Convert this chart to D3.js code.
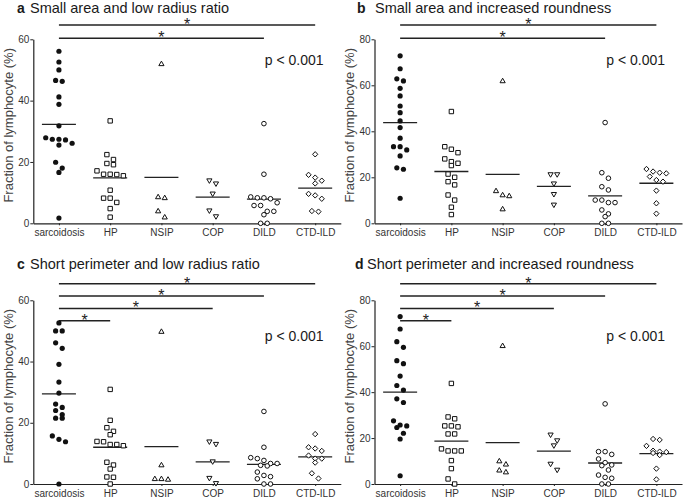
<!DOCTYPE html>
<html><head><meta charset="utf-8">
<script src="https://cdn.jsdelivr.net/npm/d3@7"></script>
<style>body{margin:0;background:#fff}svg{display:block}</style>
</head><body>
<script>
// ---------------- data ----------------
const categories = ["sarcoidosis", "HP", "NSIP", "COP", "DILD", "CTD-ILD"];
const panelLetters = ["a", "b", "c", "d"];
const panelTitles = [
  "Small area and low radius ratio",
  "Small area and increased roundness",
  "Short perimeter and low radius ratio",
  "Short perimeter and increased roundness"
];
const yTicks60 = [0, 20, 40, 60];
const yTicks80 = [0, 20, 40, 60, 80];
const yLabelText = "Fraction of lymphocyte (%)";
const pValueText = "p < 0.001";
const sigA = ["DILD", "CTD-ILD"];
const sigB = ["DILD", "CTD-ILD"];
const sigC = ["HP", "COP", "DILD", "CTD-ILD"];
const sigD = ["HP", "COP", "DILD", "CTD-ILD"];

const valuesA = [
  [56.1, 52.6, 50.0, 46.3, 46.6, 41.2, 38.8, 31.8, 27.9, 27.4, 26.1, 25.5, 27.2, 27.4, 19.9, 18.0, 16.6, 1.7],
  [33.4, 22.4, 19.5, 19.1, 20.8, 17.1, 16.0, 15.5, 15.9, 16.0, 10.8, 8.2, 8.2, 6.8, 4.8, 2.0],
  [52.0, 8.6, 8.3, 4.0, 2.0],
  [12.9, 13.9, 9.6, 4.1, 2.2],
  [32.5, 16.0, 8.6, 8.3, 8.3, 8.0, 6.7, 5.8, 5.8, 3.9, 3.9, 2.8, 0, 0],
  [22.5, 14.9, 15.8, 13.9, 13.0, 9.1, 8.0, 9.6, 3.8, 4.0]
];
const valuesB = [
  [72.8, 67.2, 62.8, 61.9, 58.7, 55.4, 51.0, 48.1, 44.5, 41.6, 37.0, 33.3, 31.9, 33.3, 29.3, 24.1, 23.5, 10.9],
  [48.6, 33.3, 32.2, 30.7, 28.0, 26.1, 25.1, 26.8, 20.0, 21.4, 18.1, 16.7, 12.3, 10.1, 7.0, 3.8],
  [61.9, 12.3, 11.9, 14.1, 6.2],
  [21.2, 21.2, 17.2, 12.6, 8.0],
  [43.8, 22.0, 19.6, 15.9, 14.5, 10.1, 9.0, 9.0, 10.1, 5.8, 2.9, 4.1, 0, 0],
  [22.5, 21.7, 22.0, 23.6, 20.3, 18.8, 18.1, 14.2, 8.7, 4.2]
];
const valuesC = [
  [52.6, 50.0, 50.0, 46.1, 44.3, 39.1, 33.3, 29.7, 26.1, 25.0, 24.0, 22.7, 21.5, 21.5, 15.7, 14.6, 13.8, 0],
  [30.9, 20.8, 18.4, 17.2, 16.1, 13.9, 12.9, 12.5, 12.9, 13.8, 7.1, 6.2, 4.9, 2.3, 2.2, 0],
  [49.8, 6.2, 1.7, 1.5, 1.7],
  [13.0, 13.8, 7.3, 1.9, 0.2],
  [23.7, 12.0, 8.6, 8.3, 7.7, 6.7, 5.9, 6.1, 6.7, 3.9, 2.8, 1.7, 2.4, 0, 0],
  [16.3, 12.0, 10.8, 11.6, 9.3, 8.3, 7.0, 8.3, 3.5, 1.8]
];
const valuesD = [
  [72.9, 67.5, 62.0, 59.5, 52.4, 53.7, 47.0, 40.9, 42.9, 37.1, 35.5, 25.7, 24.6, 25.3, 27.5, 22.1, 19.6, 3.6],
  [43.8, 28.4, 29.2, 24.9, 25.3, 25.3, 21.8, 21.8, 15.3, 14.4, 14.4, 14.4, 10.2, 6.7, 2.2, 0],
  [60.2, 10.0, 8.6, 6.0, 5.2],
  [21.4, 18.9, 16.7, 8.7, 6.1],
  [34.9, 14.1, 12.9, 14.1, 10.9, 9.3, 8.0, 8.3, 6.1, 2.5, 3.9, 2.9, 0, 0],
  [19.2, 19.6, 16.6, 14.5, 13.9, 12.6, 13.5, 14.1, 6.7, 2.0]
];

// ---------------- layout ----------------
const W = 685, H = 501;
const panels = [
  {values: valuesA, ticks: yTicks60, max: 60, sig: sigA, axisX: 33.3, top: 39.3, bottom: 223.3,
   letterX: 17, titleX: 30, titleY: 12.7, pX: 323.5, pY: 65, sigBase: -1, sigStep: 13.3},
  {values: valuesB, ticks: yTicks80, max: 80, sig: sigB, axisX: 374.5, top: 39.3, bottom: 223.3,
   letterX: 357, titleX: 375, titleY: 12.7, pX: 665, pY: 65, sigBase: -1, sigStep: 13.3},
  {values: valuesC, ticks: yTicks60, max: 60, sig: sigC, axisX: 33.3, top: 300.3, bottom: 484,
   letterX: 17, titleX: 30, titleY: 269, pX: 323.5, pY: 341, sigBase: 20.4, sigStep: 12.3},
  {values: valuesD, ticks: yTicks80, max: 80, sig: sigD, axisX: 374.5, top: 300.3, bottom: 484,
   letterX: 355, titleX: 367, titleY: 269, pX: 665, pY: 341, sigBase: 20.4, sigStep: 12.3}
];
const plotW = 307.5;
const FONT = "'Liberation Sans', Arial, Helvetica, sans-serif";
const INK = "#1a1a1a";

// marker shapes per category (open markers)
const markerPath = [
  null,
  "M-2.2,-2.2H2.2V2.2H-2.2Z",
  "M0,-2.7L2.6,1.8L-2.6,1.8Z",
  "M0,2.7L2.6,-1.8L-2.6,-1.8Z",
  null,
  "M0,-2.7L2.6,0L0,2.7L-2.6,0Z"
];

function swarm(vals, y, cx, gap, thr) {
  const pts = vals.map((v, i) => ({v, i, py: y(v)})).sort((a, b) => a.py - b.py);
  const groups = [];
  let g = null;
  for (const p of pts) {
    if (!g || p.py - g[0].py >= thr) { g = [p]; groups.push(g); }
    else g.push(p);
  }
  groups.forEach(gr => gr.forEach((p, k) => { p.px = cx + (k - (gr.length - 1) / 2) * gap; }));
  return pts;
}

const svg = d3.select("body").append("svg")
  .attr("width", W).attr("height", H)
  .attr("font-family", FONT);

panels.forEach((P, pi) => {
  const g = svg.append("g");
  const x = d3.scalePoint().domain(categories).range([P.axisX, P.axisX + plotW]).padding(0.5);
  const y = d3.scaleLinear().domain([0, P.max]).range([P.bottom, P.top]);

  // title
  g.append("text").attr("x", P.letterX).attr("y", P.titleY).attr("font-size", 14)
    .attr("font-weight", "bold").attr("fill", INK).text(panelLetters[pi]);
  g.append("text").attr("x", P.titleX).attr("y", P.titleY).attr("font-size", 14.5)
    .attr("fill", INK).text(panelTitles[pi]);

  // axes
  const ya = g.append("g").attr("transform", `translate(${P.axisX},0)`)
    .call(d3.axisLeft(y).tickValues(P.ticks).tickSize(3).tickPadding(1).tickSizeOuter(0));
  const xa = g.append("g").attr("transform", `translate(0,${P.bottom})`)
    .call(d3.axisBottom(x).tickSize(2).tickPadding(4).tickSizeOuter(0));
  [ya, xa].forEach(a => {
    a.select(".domain").attr("stroke", "#222").attr("stroke-width", 1.2);
    a.selectAll(".tick line").attr("stroke", "#222").attr("stroke-width", 1);
    a.selectAll(".tick text").attr("font-size", 10).attr("fill", "#333").attr("font-family", FONT);
  });

  // y label
  const midY = (P.top + P.bottom) / 2 - 6;
  g.append("text")
    .attr("transform", `translate(${P.axisX - 20.8},${midY}) rotate(-90)`)
    .attr("text-anchor", "middle").attr("font-size", 13).attr("fill", "#444")
    .text(yLabelText);

  // p value
  g.append("text").attr("x", P.pX).attr("y", P.pY).attr("text-anchor", "end")
    .attr("font-size", 14).attr("fill", INK).text(pValueText);

  // significance bars
  P.sig.forEach((target, i) => {
    const yb = P.top + P.sigBase - i * P.sigStep;
    const x0 = x(categories[0]), x1 = x(target);
    g.append("line").attr("x1", x0).attr("x2", x1).attr("y1", yb).attr("y2", yb)
      .attr("stroke", "#222").attr("stroke-width", 1.5);
    g.append("text").attr("x", (x0 + x1) / 2).attr("y", yb + 4.9).attr("text-anchor", "middle")
      .attr("font-size", 16).attr("fill", "#222").text("*");
  });

  // points and means
  P.values.forEach((vals, ci) => {
    const cx = x(categories[ci]);
    const m = d3.mean(vals);
    g.append("line").attr("x1", cx - 17).attr("x2", cx + 17).attr("y1", y(m)).attr("y2", y(m))
      .attr("stroke", "#222").attr("stroke-width", 1.3);
    const pts = swarm(vals, y, cx, 6.6, 6.3);
    const sel = g.append("g").selectAll("g").data(pts).join("g")
      .attr("transform", d => `translate(${d.px},${d.py})`);
    if (ci === 0) {
      sel.append("circle").attr("r", 2.6).attr("fill", "#111");
    } else if (ci === 4) {
      sel.append("circle").attr("r", 2.3).attr("fill", "#fff").attr("stroke", "#111").attr("stroke-width", 1);
    } else {
      sel.append("path").attr("d", markerPath[ci]).attr("fill", "#fff")
        .attr("stroke", "#111").attr("stroke-width", 1);
    }
  });
});
</script>
</body></html>
